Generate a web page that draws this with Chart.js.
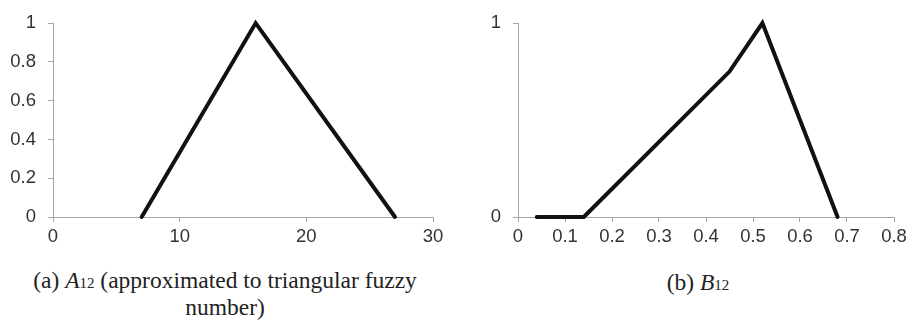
<!DOCTYPE html>
<html>
<head>
<meta charset="utf-8">
<script src="https://cdn.jsdelivr.net/npm/chart.js@4/dist/chart.umd.min.js"></script>
<style>
  html, body { margin: 0; padding: 0; background: #fff; }
  body { width: 911px; height: 320px; position: relative; overflow: hidden; }
  .box { position: absolute; top: 0; height: 250px; }
  .cap { position: absolute; font-family: "Liberation Serif", "Times New Roman", serif; font-size: 23.5px; line-height: 24px; color: #222; text-align: center; white-space: nowrap; }
  .cap i { font-style: italic; }
  .cap .sub { font-size: 15px; font-style: normal; }
</style>
</head>
<body>
<div class="box" style="left:0;width:460px;"><canvas id="ca"></canvas></div>
<div class="box" style="left:460px;width:451px;"><canvas id="cb"></canvas></div>
<div class="cap" style="left:0;width:450px;top:268px;">(a) <i>A</i><span class="sub">12</span> (approximated to triangular fuzzy<br>number)</div>
<div class="cap" style="left:598px;width:200px;top:270px;">(b) <i>B</i><span class="sub">12</span></div>
<script>
// Chart (a): A12 triangular fuzzy number
const aX = [7, 16, 27];
const aY = [0, 1, 0];
const aXTicks = [0, 10, 20, 30];
const aYTicks = [0, 0.2, 0.4, 0.6, 0.8, 1];

// Chart (b): B12
const bX = [0.04, 0.14, 0.45, 0.52, 0.68];
const bY = [0, 0, 0.75, 1, 0];
const bXTicks = [0, 0.1, 0.2, 0.3, 0.4, 0.5, 0.6, 0.7, 0.8];
const bYTicks = [0, 1];

const AXIS = '#a6a6a6';
const LABEL = '#333333';
const TICKFONT = { family: '"Liberation Sans", Arial, sans-serif', size: 18.5 };

function pts(xs, ys) { return xs.map((x, i) => ({ x: x, y: ys[i] })); }

function makeChart(id, xs, ys, xTicks, yTicks, yWidth, padRight) {
  const xmin = xTicks[0], xmax = xTicks[xTicks.length - 1];
  const ymin = yTicks[0], ymax = yTicks[yTicks.length - 1];
  new Chart(document.getElementById(id), {
    type: 'scatter',
    data: {
      datasets: [{
        data: pts(xs, ys),
        showLine: true,
        borderColor: '#111111',
        borderWidth: 4,
        borderCapStyle: 'round',
        borderJoinStyle: 'miter',
        pointRadius: 0,
        pointHoverRadius: 0,
        fill: false,
        tension: 0,
        clip: false
      }]
    },
    options: {
      responsive: true,
      maintainAspectRatio: false,
      animation: false,
      events: [],
      layout: { padding: { top: 14, right: padRight, left: 0, bottom: 0 } },
      plugins: { legend: { display: false }, tooltip: { enabled: false } },
      scales: {
        x: {
          type: 'linear',
          min: xmin, max: xmax,
          afterBuildTicks: (s) => { s.ticks = xTicks.map(v => ({ value: v })); },
          afterFit: (s) => { s.height = 33; },
          ticks: { color: LABEL, font: TICKFONT, padding: 4, maxRotation: 0, autoSkip: false,
                   callback: (v) => String(v) },
          grid: { display: true, drawOnChartArea: false, drawTicks: true, tickLength: 5, color: AXIS, lineWidth: 1 },
          border: { display: true, color: AXIS, width: 1 }
        },
        y: {
          type: 'linear',
          min: ymin, max: ymax,
          afterBuildTicks: (s) => { s.ticks = yTicks.map(v => ({ value: v })); },
          afterFit: (s) => { s.width = yWidth; },
          ticks: { color: LABEL, font: TICKFONT, padding: 12, autoSkip: false,
                   callback: (v) => String(v) },
          grid: { display: true, drawOnChartArea: false, drawTicks: true, tickLength: 5, color: AXIS, lineWidth: 1 },
          border: { display: true, color: AXIS, width: 1 }
        }
      }
    }
  });
}

makeChart('ca', aX, aY, aXTicks, aYTicks, 53, 27);
makeChart('cb', bX, bY, bXTicks, bYTicks, 58, 17);
</script>
</body>
</html>
